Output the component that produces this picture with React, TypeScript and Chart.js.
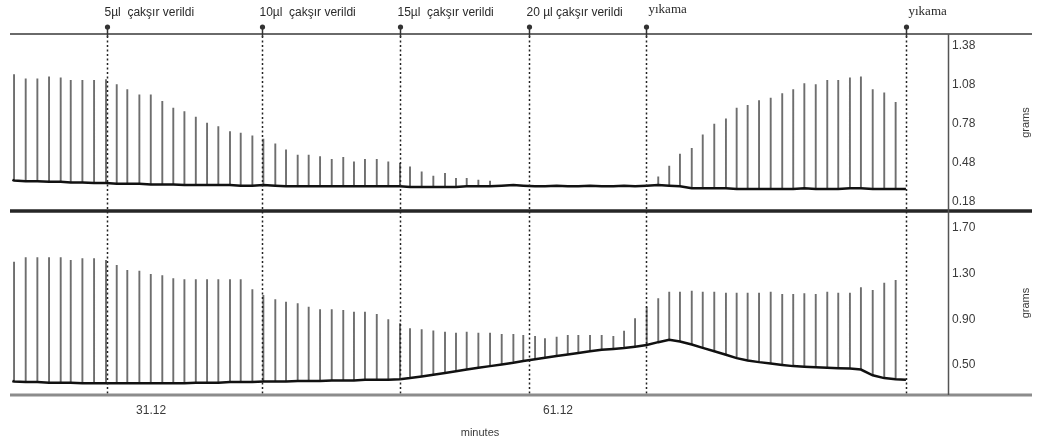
import React, { useEffect, useRef } from "react";
import { Chart, registerables } from "chart.js";

Chart.register(...registerables);

// ---- data (minutes / grams) ----
const spikeTimes = [
  21.02, 21.88, 22.74, 23.6, 24.46, 25.2, 26.06, 26.92, 27.8, 28.59,
  29.37, 30.26, 31.1, 31.95, 32.76, 33.58, 34.42, 35.25, 36.08, 36.94,
  37.73, 38.59, 39.4, 40.28, 41.07, 41.93, 42.74, 43.58, 44.44, 45.29,
  46.08, 46.89, 47.76, 48.61, 49.47, 50.21, 51.07, 51.93, 52.79, 53.6,
  54.39, 55.25, 56.11, 56.97, 57.83, 58.56, 59.43, 60.16, 61.02, 61.84,
  62.62, 63.48, 64.34, 65.2, 65.99, 66.8, 67.66, 68.51, 69.32, 70.11,
  70.98, 71.79, 72.64, 73.5, 74.29, 75.1, 75.94, 76.8, 77.65, 78.46,
  79.28, 80.12, 80.97, 81.78, 82.64, 83.45, 84.32, 85.17, 86.01,
];

const topPeaks: (number | null)[] = [
  1.163, 1.13, 1.13, 1.145, 1.138, 1.119, 1.119, 1.119, 1.124, 1.086,
  1.047, 1.008, 1.008, 0.957, 0.906, 0.879, 0.836, 0.789, 0.763, 0.724,
  0.712, 0.691, 0.666, 0.629, 0.583, 0.544, 0.544, 0.531, 0.511, 0.526,
  0.492, 0.511, 0.511, 0.492, 0.48, 0.453, 0.415, 0.381, 0.402, 0.364,
  0.364, 0.351, 0.343, null, null, null, null, null, null, null,
  null, null, null, null, null, null, null, 0.376, 0.459, 0.55,
  0.596, 0.699, 0.782, 0.823, 0.906, 0.926, 0.962, 0.983, 1.016, 1.047,
  1.094, 1.086, 1.119, 1.119, 1.138, 1.145, 1.047, 1.022, 0.949,
];

const topBase = [
  0.345, 0.34, 0.34, 0.335, 0.335, 0.33, 0.33, 0.325, 0.325, 0.32,
  0.32, 0.32, 0.315, 0.315, 0.315, 0.31, 0.31, 0.31, 0.31, 0.31,
  0.305, 0.305, 0.31, 0.305, 0.3, 0.3, 0.3, 0.3, 0.3, 0.3,
  0.3, 0.3, 0.3, 0.3, 0.3, 0.295, 0.295, 0.295, 0.295, 0.295,
  0.3, 0.3, 0.3, 0.305, 0.31, 0.305, 0.3, 0.3, 0.305, 0.3,
  0.3, 0.305, 0.3, 0.3, 0.305, 0.3, 0.305, 0.31, 0.305, 0.3,
  0.285, 0.285, 0.285, 0.285, 0.28, 0.28, 0.28, 0.28, 0.28, 0.28,
  0.285, 0.28, 0.28, 0.28, 0.285, 0.285, 0.28, 0.28, 0.28,
];

const bottomPeaks = [
  1.405, 1.443, 1.443, 1.443, 1.443, 1.42, 1.435, 1.435, 1.42, 1.376,
  1.332, 1.326, 1.297, 1.286, 1.26, 1.251, 1.251, 1.251, 1.251, 1.251,
  1.251, 1.163, 1.113, 1.076, 1.055, 1.041, 1.011, 0.988, 0.988, 0.982,
  0.967, 0.967, 0.947, 0.9, 0.865, 0.822, 0.813, 0.801, 0.792, 0.783,
  0.792, 0.783, 0.783, 0.772, 0.772, 0.763, 0.754, 0.734, 0.748, 0.763,
  0.763, 0.763, 0.763, 0.754, 0.8, 0.909, 1.011, 1.084, 1.142, 1.142,
  1.151, 1.142, 1.142, 1.133, 1.133, 1.133, 1.133, 1.142, 1.122, 1.122,
  1.128, 1.122, 1.142, 1.133, 1.133, 1.181, 1.157, 1.221, 1.245,
];

const bottomBase = [
  0.355, 0.35, 0.35, 0.345, 0.345, 0.345, 0.34, 0.34, 0.34, 0.34,
  0.34, 0.34, 0.34, 0.34, 0.34, 0.34, 0.345, 0.345, 0.345, 0.35,
  0.35, 0.35, 0.355, 0.355, 0.355, 0.36, 0.36, 0.36, 0.365, 0.365,
  0.365, 0.37, 0.37, 0.37, 0.375, 0.385, 0.4, 0.415, 0.43, 0.445,
  0.46, 0.475, 0.49, 0.505, 0.52, 0.535, 0.55, 0.563, 0.578, 0.592,
  0.605, 0.62, 0.633, 0.64, 0.648, 0.66, 0.675, 0.7, 0.72, 0.705,
  0.68, 0.65, 0.62, 0.59, 0.56, 0.54, 0.525, 0.512, 0.5, 0.49,
  0.485, 0.48, 0.475, 0.472, 0.47, 0.46, 0.41, 0.385, 0.375,
];

const traceStart = 20.9;
const traceEnd = 86.77;
const topEnds = [0.35, 0.28];
const bottomEnds = [0.36, 0.37];

const eventTimes = [27.88, 39.3, 49.47, 58.98, 67.61, 86.77];
const eventLabels = [
  "5µl  çakşır verildi",
  "10µl  çakşır verildi",
  "15µl  çakşır verildi",
  "20 µl çakşır verildi",
  "yıkama",
  "yıkama",
];

const xTicks = [31.12, 61.12];
const topTicks = [1.38, 1.08, 0.78, 0.48, 0.18];
const bottomTicks = [1.7, 1.3, 0.9, 0.5];

const X_MIN = 20.87;
const X_MAX = 89.87;

function spikePoints(peaks: (number | null)[], bases: number[]) {
  const pts: { x: number; y: number | null }[] = [];
  spikeTimes.forEach((t, i) => {
    const p = peaks[i];
    if (p == null) return;
    pts.push({ x: t, y: bases[i] }, { x: t, y: p }, { x: t, y: null });
  });
  return pts;
}

function basePoints(bases: number[], ends: number[]) {
  return [
    { x: traceStart, y: ends[0] },
    ...spikeTimes.map((t, i) => ({ x: t, y: bases[i] })),
    { x: traceEnd, y: ends[1] },
  ];
}

const TEXT = "#3a3a3a";

const framePlugin = {
  id: "frame",
  afterDatasetsDraw(chart: any) {
    const ctx = chart.ctx as CanvasRenderingContext2D;
    const area = chart.chartArea;
    const xs = chart.scales.x;
    const yTop = chart.scales.yTop;
    const yBot = chart.scales.yBottom;
    ctx.save();

    // event dashed lines
    ctx.strokeStyle = "#222";
    ctx.lineWidth = 1.5;
    ctx.setLineDash([2, 2.5]);
    eventTimes.forEach((t) => {
      const x = Math.round(xs.getPixelForValue(t)) + 0.5;
      ctx.beginPath();
      ctx.moveTo(x, area.top + 2);
      ctx.lineTo(x, area.bottom);
      ctx.stroke();
    });
    ctx.setLineDash([]);

    // horizontal frame lines
    const hLine = (y: number, w: number, c: string) => {
      ctx.strokeStyle = c;
      ctx.lineWidth = w;
      ctx.beginPath();
      ctx.moveTo(10, y);
      ctx.lineTo(1032, y);
      ctx.stroke();
    };
    hLine(area.top, 2, "#6a6a6a");
    hLine(yTop.bottom, 3.5, "#262626");
    hLine(area.bottom, 3, "#8c8c8c");

    // right axis line
    ctx.strokeStyle = "#555";
    ctx.lineWidth = 1.5;
    ctx.beginPath();
    ctx.moveTo(area.right + 0.5, area.top);
    ctx.lineTo(area.right + 0.5, area.bottom);
    ctx.stroke();

    // event pins + labels
    eventTimes.forEach((t, i) => {
      const x = Math.round(xs.getPixelForValue(t)) + 0.5;
      ctx.fillStyle = "#333";
      ctx.strokeStyle = "#333";
      ctx.lineWidth = 1.5;
      ctx.beginPath();
      ctx.arc(x, 27, 2.6, 0, Math.PI * 2);
      ctx.fill();
      ctx.beginPath();
      ctx.moveTo(x, 27);
      ctx.lineTo(x, area.top + 3);
      ctx.stroke();

      const isWash = eventLabels[i] === "yıkama";
      ctx.fillStyle = "#2a2a2a";
      ctx.textBaseline = "middle";
      ctx.textAlign = "left";
      if (isWash) {
        ctx.font = "13px 'Liberation Serif', serif";
        ctx.fillText(eventLabels[i], x + 2, i === 4 ? 10 : 12);
      } else {
        ctx.font = "12px 'Liberation Sans', Arial, sans-serif";
        ctx.fillText(eventLabels[i], x - 3, 13);
      }
    });

    // "grams" titles
    ctx.fillStyle = TEXT;
    ctx.font = "11px 'Liberation Sans', Arial, sans-serif";
    ctx.textAlign = "center";
    ctx.textBaseline = "middle";
    [yTop, yBot].forEach((s: any) => {
      ctx.save();
      ctx.translate(1026, (s.top + s.bottom) / 2);
      ctx.rotate(-Math.PI / 2);
      ctx.fillText("grams", 0, 0);
      ctx.restore();
    });

    ctx.restore();
  },
};

export default function App() {
  const ref = useRef<HTMLCanvasElement | null>(null);

  useEffect(() => {
    if (!ref.current) return;
    Chart.defaults.font.family = "'Liberation Sans', Arial, sans-serif";
    const yAxis = (ticks: number[], min: number, max: number, weight: number) => ({
      type: "linear" as const,
      position: "right" as const,
      stack: "panels",
      stackWeight: weight,
      min,
      max,
      afterBuildTicks: (s: any) => {
        s.ticks = ticks.map((v) => ({ value: v }));
      },
      afterFit: (s: any) => {
        s.width = 91;
      },
      ticks: {
        callback: (v: any) => Number(v).toFixed(2),
        color: TEXT,
        font: { size: 12 },
        padding: 4,
        autoSkip: false,
      },
      grid: { display: false, drawTicks: false },
      border: { display: false },
    });

    const chart = new Chart(ref.current, {
      type: "line",
      data: {
        datasets: [
          {
            data: basePoints(topBase, topEnds),
            yAxisID: "yTop",
            borderColor: "#111",
            borderWidth: 2.5,
            pointRadius: 0,
            order: 0,
          },
          {
            data: spikePoints(topPeaks, topBase),
            yAxisID: "yTop",
            borderColor: "#6e6e6e",
            borderWidth: 1.9,
            pointRadius: 0,
            spanGaps: false,
            order: 1,
          },
          {
            data: basePoints(bottomBase, bottomEnds),
            yAxisID: "yBottom",
            borderColor: "#111",
            borderWidth: 2.5,
            pointRadius: 0,
            order: 0,
          },
          {
            data: spikePoints(bottomPeaks, bottomBase),
            yAxisID: "yBottom",
            borderColor: "#6e6e6e",
            borderWidth: 1.9,
            pointRadius: 0,
            spanGaps: false,
            order: 1,
          },
        ] as any,
      },
      options: {
        animation: false,
        responsive: false,
        events: [],
        layout: { padding: { left: 12, top: 34, right: 0, bottom: 0 } },
        plugins: { legend: { display: false }, tooltip: { enabled: false } },
        elements: { line: { tension: 0, borderCapStyle: "butt" } },
        scales: {
          x: {
            type: "linear",
            position: "bottom",
            min: X_MIN,
            max: X_MAX,
            afterBuildTicks: (s: any) => {
              s.ticks = xTicks.map((v) => ({ value: v }));
            },
            afterFit: (s: any) => {
              s.height = 48;
            },
            ticks: {
              callback: (v: any) => Number(v).toFixed(2),
              color: TEXT,
              font: { size: 12 },
              padding: 8,
              autoSkip: false,
              maxRotation: 0,
            },
            grid: { display: false, drawTicks: false },
            border: { display: false },
            title: {
              display: true,
              text: "minutes",
              color: TEXT,
              font: { size: 11 },
              padding: { top: 0, bottom: 3 },
            },
          },
          yTop: yAxis(topTicks, 0.11, 1.473, 177),
          yBottom: yAxis(bottomTicks, 0.237, 1.849, 184),
        } as any,
      },
      plugins: [framePlugin],
    });
    return () => chart.destroy();
  }, []);

  return (
    <div style={{ position: "absolute", left: 0, top: 0, width: 1039, height: 443, background: "#fff" }}>
      <canvas ref={ref} width={1039} height={443} style={{ display: "block" }} />
    </div>
  );
}
